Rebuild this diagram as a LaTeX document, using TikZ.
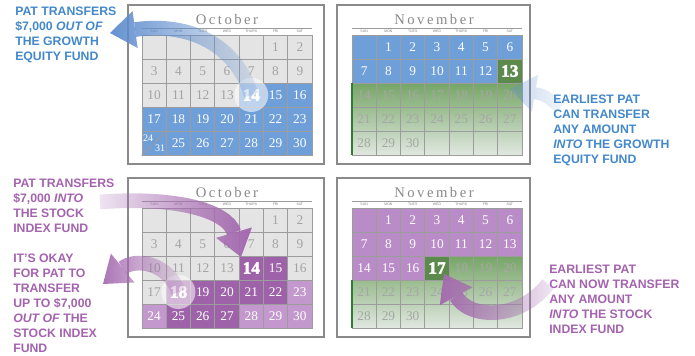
\documentclass[tikz,border=0pt]{standalone}
\usepackage{fontspec}
\setmainfont{Liberation Serif}
\newfontfamily\labelfont{Liberation Sans}
\newfontfamily\monthfont[LetterSpace=17]{Liberation Serif}
\usetikzlibrary{arrows.meta,fadings}
\definecolor{calblue}{HTML}{6F9FD8}
\definecolor{arrowblue}{HTML}{5F8DCE}
\definecolor{textblue}{HTML}{4388CB}
\definecolor{textpurple}{HTML}{A463AE}
\definecolor{arrowpurple}{HTML}{A56BB0}
\definecolor{darkpurple}{HTML}{9E62A9}
\definecolor{lightpurple}{HTML}{C398CD}
\definecolor{midpurple}{HTML}{B98CC7}
\definecolor{cellgray}{HTML}{E4E4E4}
\definecolor{numgray}{HTML}{A3A3A3}
\definecolor{gridgray}{HTML}{9C9C9C}
\definecolor{framegray}{HTML}{8A8A8A}
\definecolor{greentop}{HTML}{76A566}
\definecolor{greenbot}{HTML}{E0E8E0}
\definecolor{darkgreen}{HTML}{5B8A4C}
\definecolor{edgegreen}{HTML}{2E7D32}
\tikzfading[name=fadeR, left color=transparent!0, right color=transparent!85]
\tikzfading[name=fadeL, left color=transparent!85, right color=transparent!0]

\begin{document}
\begin{tikzpicture}[x=0.75pt, y=-0.75pt,
  calframe/.style={draw=framegray, line width=2.2pt, fill=white},
  monthtitle/.style={font=\monthfont\fontsize{11}{11}\selectfont, text=framegray, inner sep=0pt},
  dayname/.style={font=\labelfont\fontsize{2.6}{3}\selectfont, text=gray, inner sep=0pt},
  cell/.style={draw=gridgray, line width=0.6pt, minimum width=18.21pt, minimum height=18pt,
    inner sep=0pt, font=\fontsize{10}{10}\selectfont, text=numgray},
  cgray/.style={fill=cellgray},
  cblue/.style={fill=calblue, text=white},
  cgrad/.style={text=gray!70},
  cdpur/.style={fill=darkpurple, text=white},
  clpur/.style={fill=lightpurple, text=white},
  cmpur/.style={fill=midpurple, text=white},
  hl/.style={font=\bfseries\fontsize{13}{13}\selectfont, text=white,
    execute at begin node={\special{pdf:literal direct 2 Tr 0.35 w 0.1 0.1 0.1 RG}},
    execute at end node={\special{pdf:literal direct 0 Tr}}},
  hlblue/.style={cblue, hl},
  hlpur/.style={cdpur, hl},
  hlgreen/.style={fill=darkgreen, hl},
  bubble/.style={circle, fill=white, fill opacity=0.55, minimum size=25.5pt, inner sep=0pt},
  bluearrow/.style={draw=arrowblue, line width=11pt, line cap=butt,
    -{Triangle[width=28pt,length=19pt,line width=0pt]}},
  purplearrow/.style={draw=arrowpurple, line width=11pt, line cap=butt,
    -{Triangle[width=28pt,length=19pt,line width=0pt]}},
  labeltext/.style={anchor=north west, inner sep=0pt, align=left,
    font=\labelfont\bfseries\fontsize{9.2}{11.25}\selectfont},
  bluelabel/.style={labeltext, text=textblue},
  purplelabel/.style={labeltext, text=textpurple}
]
\useasboundingbox (0,0) rectangle (695,356);

% ---- top left: October
\draw[calframe] (128,5) rectangle (324,164);
\node[monthtitle] (titleoa) at (227,19) {October};
\draw[gridgray, line width=0.7pt] (142,28) -- (312,28);
\foreach \dn [count=\c from 0] in {SUN,MON,TUES,WED,THURS,FRI,SAT}
  \node[dayname] (doa-\c) at ({142+(\c+0.5)*24.2857},31.5) {\dn};
\foreach \row [count=\r from 0] in {
  {/cgray,/cgray,/cgray,/cgray,/cgray,1/cgray,2/cgray},
  {3/cgray,4/cgray,5/cgray,6/cgray,7/cgray,8/cgray,9/cgray},
  {10/cgray,11/cgray,12/cgray,13/cgray,14/hlblue,15/cblue,16/cblue},
  {17/cblue,18/cblue,19/cblue,20/cblue,21/cblue,22/cblue,23/cblue},
  {/cblue,25/cblue,26/cblue,27/cblue,28/cblue,29/cblue,30/cblue}}
  \foreach \d/\s [count=\c from 0] in \row
    \node[cell,\s] (oa-\r-\c) at ({142+(\c+0.5)*24.2857},{35+(\r+0.5)*24}) {\d};
\draw[gridgray, line width=0.6pt] (oa-4-0.south west) -- (oa-4-0.north east);
\node[text=white, font=\fontsize{7.5}{7.5}\selectfont, inner sep=0pt] (oa-24) at ([shift={(-4.5pt,3.8pt)}]oa-4-0.center) {24};
\node[text=white, font=\fontsize{7.5}{7.5}\selectfont, inner sep=0pt] (oa-31) at ([shift={(4.5pt,-4pt)}]oa-4-0.center) {31};

% ---- top right: November
\draw[calframe] (337,5) rectangle (530,164);
\node[monthtitle] (titlena) at (434,19) {November};
\draw[gridgray, line width=0.7pt] (352,28) -- (522,28);
\foreach \dn [count=\c from 0] in {SUN,MON,TUES,WED,THURS,FRI,SAT}
  \node[dayname] (dna-\c) at ({352+(\c+0.5)*24.2857},31.5) {\dn};
\shade[top color=greentop, bottom color=greenbot] (352,83) rectangle (522,155);
\foreach \row [count=\r from 0] in {
  {/cblue,1/cblue,2/cblue,3/cblue,4/cblue,5/cblue,6/cblue},
  {7/cblue,8/cblue,9/cblue,10/cblue,11/cblue,12/cblue,13/hlgreen},
  {14/cgrad,15/cgrad,16/cgrad,17/cgrad,18/cgrad,19/cgrad,20/cgrad},
  {21/cgrad,22/cgrad,23/cgrad,24/cgrad,25/cgrad,26/cgrad,27/cgrad},
  {28/cgrad,29/cgrad,30/cgrad,/cgrad,/cgrad,/cgrad,/cgrad}}
  \foreach \d/\s [count=\c from 0] in \row
    \node[cell,\s] (na-\r-\c) at ({352+(\c+0.5)*24.2857},{35+(\r+0.5)*24}) {\d};
\draw[edgegreen, line width=1.6pt] (na-2-0.north west) -- (na-4-0.south west);

% ---- bottom left: October
\draw[calframe] (128,178) rectangle (324,337);
\node[monthtitle] (titleob) at (227,192) {October};
\draw[gridgray, line width=0.7pt] (142,201) -- (312,201);
\foreach \dn [count=\c from 0] in {SUN,MON,TUES,WED,THURS,FRI,SAT}
  \node[dayname] (dob-\c) at ({142+(\c+0.5)*24.2857},204.5) {\dn};
\foreach \row [count=\r from 0] in {
  {/cgray,/cgray,/cgray,/cgray,/cgray,1/cgray,2/cgray},
  {3/cgray,4/cgray,5/cgray,6/cgray,7/cgray,8/cgray,9/cgray},
  {10/cgray,11/cgray,12/cgray,13/cgray,14/hlpur,15/cdpur,16/cgray},
  {17/cgray,18/hlpur,19/cdpur,20/cdpur,21/cdpur,22/cdpur,23/clpur},
  {24/clpur,25/cdpur,26/cdpur,27/cdpur,28/clpur,29/clpur,30/clpur}}
  \foreach \d/\s [count=\c from 0] in \row
    \node[cell,\s] (ob-\r-\c) at ({142+(\c+0.5)*24.2857},{208+(\r+0.5)*24}) {\d};

% ---- bottom right: November
\draw[calframe] (337,178) rectangle (530,337);
\node[monthtitle] (titlenb) at (434,192) {November};
\draw[gridgray, line width=0.7pt] (352,201) -- (522,201);
\foreach \dn [count=\c from 0] in {SUN,MON,TUES,WED,THURS,FRI,SAT}
  \node[dayname] (dnb-\c) at ({352+(\c+0.5)*24.2857},204.5) {\dn};
\shade[top color=greentop, bottom color=greenbot] (352,256) rectangle (522,328);
\foreach \row [count=\r from 0] in {
  {/cmpur,1/cmpur,2/cmpur,3/cmpur,4/cmpur,5/cmpur,6/cmpur},
  {7/cmpur,8/cmpur,9/cmpur,10/cmpur,11/cmpur,12/cmpur,13/cmpur},
  {14/cmpur,15/cmpur,16/cmpur,17/hlgreen,18/cgrad,19/cgrad,20/cgrad},
  {21/cgrad,22/cgrad,23/cgrad,24/cgrad,25/cgrad,26/cgrad,27/cgrad},
  {28/cgrad,29/cgrad,30/cgrad,/cgrad,/cgrad,/cgrad,/cgrad}}
  \foreach \d/\s [count=\c from 0] in \row
    \node[cell,\s] (nb-\r-\c) at ({352+(\c+0.5)*24.2857},{208+(\r+0.5)*24}) {\d};
\draw[edgegreen, line width=1.6pt] (nb-3-0.north west) -- (nb-4-0.south west);

% ---- arrows
\node[bubble] (bubA) at (oa-2-4) {};
\coordinate (tipA) at (110,33);
\draw[bluearrow, path fading=fadeR] (bubA.center) .. controls (236,45) and (190,22) .. (tipA);
\coordinate (tailB) at (560,108);
\coordinate (tipB) at (510,89);
\draw[bluearrow, line width=9pt, opacity=0.4, path fading=fadeR] (tailB) .. controls (545,95) .. (tipB);
\coordinate (tailC) at (100,202);
\coordinate (tipC) at (241,257);
\draw[purplearrow, path fading=fadeL] (tailC) .. controls (180,196) and (228,212) .. (tipC);
\node[bubble] (bubD) at (ob-3-1) {};
\coordinate (tipD) at (103,284);
\draw[purplearrow, path fading=fadeR] (bubD.center) .. controls (168,262) and (135,258) .. (tipD);
\coordinate (tailE) at (548,284);
\coordinate (tipE) at (444,274);
\draw[purplearrow, path fading=fadeR] (tailE) .. controls (518,322) and (468,318) .. (tipE);

% ---- labels
\node[bluelabel] (lblA) at (15,6.5) {PAT TRANSFERS\\\$7,000 \textit{OUT OF}\\THE GROWTH\\EQUITY FUND};
\node[bluelabel] (lblB) at (553,94.5) {EARLIEST PAT\\CAN TRANSFER\\ANY AMOUNT\\\textit{INTO} THE GROWTH\\EQUITY FUND};
\node[purplelabel] (lblC) at (13,178.5) {PAT TRANSFERS\\\$7,000 \textit{INTO}\\THE STOCK\\INDEX FUND};
\node[purplelabel] (lblD) at (13,253.5) {IT’S OKAY\\FOR PAT TO\\TRANSFER\\UP TO \$7,000\\\textit{OUT OF} THE\\STOCK INDEX\\FUND};
\node[purplelabel] (lblE) at (549,264.5) {EARLIEST PAT\\CAN NOW TRANSFER\\ANY AMOUNT\\\textit{INTO} THE STOCK\\INDEX FUND};
\end{tikzpicture}
\end{document}
